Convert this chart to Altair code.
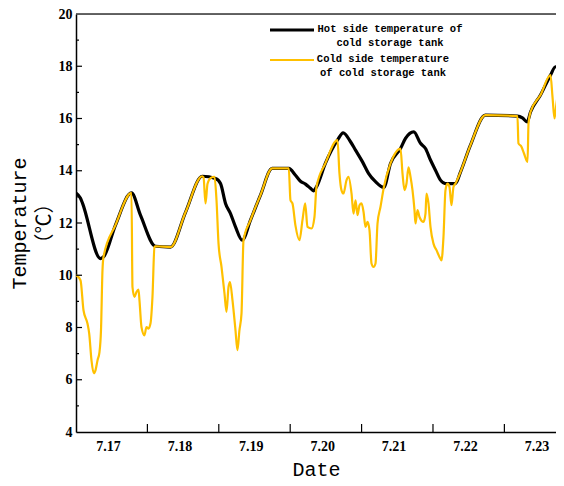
import altair as alt
import pandas as pd

# x = days since 7.17 00:00
hot_day = [0.0, 0.063, 0.091, 0.343, 0.385, 0.553, 0.777, 0.903, 1.113, 1.324, 1.534, 1.768,
           1.954, 2.024, 2.094, 2.164, 2.234, 2.328, 2.444, 2.584, 2.748, 2.980, 3.074, 3.144,
           3.214, 3.284, 3.326, 3.368, 3.494, 3.662, 3.742, 3.845, 3.915, 4.013, 4.097, 4.195,
           4.311, 4.405, 4.545, 4.615, 4.731, 4.825, 4.895, 4.965, 5.035, 5.105, 5.175, 5.315,
           5.385, 5.525, 5.735, 6.183, 6.253, 6.319, 6.366, 6.506, 6.646, 6.716, 6.786, 6.842]
hot_temp = [13.15, 12.95, 12.76, 10.64, 10.70, 11.92, 13.15, 12.30, 11.11, 11.08, 12.41, 13.79,
            13.70, 13.51, 12.75, 12.36, 11.85, 11.34, 12.11, 13.07, 14.09, 14.09, 13.83, 13.60,
            13.49, 13.33, 13.23, 13.38, 14.29, 15.17, 15.45, 15.11, 14.79, 14.34, 13.90, 13.58,
            13.36, 14.28, 14.85, 15.24, 15.49, 15.05, 14.85, 14.41, 14.02, 13.64, 13.51, 13.51,
            13.95, 14.98, 16.13, 16.09, 16.02, 15.87, 16.25, 16.90, 17.66, 17.98, 17.85, 17.60]

cold_day = [0.0, 0.063, 0.105, 0.161, 0.185, 0.217, 0.249, 0.273, 0.301, 0.329, 0.350, 0.371,
            0.385, 0.553, 0.777, 0.791, 0.819, 0.847, 0.875, 0.889, 0.917, 0.959, 0.987, 1.015,
            1.043, 1.071, 1.099, 1.113, 1.324, 1.534, 1.768, 1.786, 1.814, 1.842, 1.884, 1.940,
            1.968, 1.996, 2.038, 2.080, 2.108, 2.136, 2.157, 2.192, 2.234, 2.261, 2.289, 2.318,
            2.346, 2.444, 2.584, 2.748, 2.980, 3.004, 3.032, 3.074, 3.130, 3.172, 3.210, 3.242,
            3.298, 3.340, 3.368, 3.494, 3.662, 3.690, 3.718, 3.746, 3.789, 3.817, 3.859, 3.887,
            3.915, 3.943, 3.971, 3.999, 4.027, 4.055, 4.083, 4.111, 4.139, 4.167, 4.195, 4.223,
            4.265, 4.311, 4.405, 4.545, 4.573, 4.601, 4.629, 4.657, 4.685, 4.713, 4.741, 4.755,
            4.783, 4.811, 4.867, 4.895, 4.909, 4.937, 4.965, 5.007, 5.049, 5.091, 5.119, 5.147,
            5.175, 5.203, 5.231, 5.259, 5.287, 5.315, 5.385, 5.525, 5.735, 6.183, 6.197, 6.239,
            6.275, 6.324, 6.338, 6.366, 6.506, 6.646, 6.674, 6.702, 6.730, 6.758, 6.786, 6.814,
            6.842]
cold_temp = [10.00, 9.81, 8.66, 8.15, 7.77, 6.74, 6.25, 6.36, 6.74, 7.06, 7.89, 10.19,
             10.70, 11.92, 13.15, 9.55, 9.17, 9.36, 9.45, 9.04, 8.02, 7.70, 8.02, 7.96,
             8.15, 9.17, 11.08, 11.11, 11.08, 12.41, 13.79, 13.75, 12.75, 13.50, 13.72, 13.77,
             12.87, 11.22, 10.32, 9.30, 8.60, 9.55, 9.74, 9.04, 7.89, 7.13, 7.89, 8.53,
             11.34, 12.11, 13.07, 14.09, 14.09, 12.87, 12.75, 11.90, 11.34, 12.11, 12.75, 11.85,
             11.79, 12.23, 13.38, 14.29, 15.17, 13.90, 13.26, 13.13, 13.64, 13.77, 13.13, 12.36,
             12.87, 12.30, 12.68, 12.75, 12.43, 11.85, 12.04, 11.72, 10.45, 10.32, 10.45, 11.98,
             12.62, 13.36, 14.28, 14.85, 13.90, 13.26, 13.51, 14.13, 13.77, 13.26, 12.49, 11.98,
             12.49, 12.23, 12.04, 12.36, 13.13, 12.75, 11.85, 11.21, 10.96, 10.70, 10.57, 11.47,
             13.26, 13.51, 13.38, 12.68, 13.38, 13.51, 13.95, 14.98, 16.13, 16.09, 15.05, 14.92,
             14.66, 14.34, 15.81, 16.25, 16.90, 17.66, 16.83, 16.00, 16.58, 16.96, 16.45, 15.43,
             14.41]

x_tick_values = [0, 1, 2, 3, 4, 5, 6]
x_inner_ticks = [1, 2, 3, 4, 5, 6]
y_label_values = [4, 6, 8, 10, 12, 14, 16, 18, 20]
y_major_ticks = [6, 8, 10, 12, 14, 16, 18]
y_minor_ticks = [5, 7, 9, 11, 13, 15, 17, 19]
legend_labels = ["Hot side temperature of\ncold storage tank",
                 "Cold side temperature\nof cold storage tank"]
x_title = "Date"
y_title = ["Temperature", "（℃）"]

W, H = 480, 418
BLACK = "#000000"
GOLD = "#FFC000"
MONO = "'Liberation Mono', 'Noto Sans CJK SC'"
SERIF = "'Liberation Serif'"

hot = pd.DataFrame({"day": hot_day, "temp": hot_temp})
cold = pd.DataFrame({"day": cold_day, "temp": cold_temp})

xscale = alt.Scale(domain=[0, 6.723], nice=False, zero=False)
yscale = alt.Scale(domain=[4, 20], nice=False, zero=False)

x_axis = alt.Axis(values=x_tick_values, labelExpr="'7.' + (17 + datum.value)",
                  labelOffset=32, labelFlush=False, labelOverlap=False, ticks=False,
                  labelPadding=7, labelFont=SERIF, labelFontWeight="bold", labelFontSize=14,
                  labelColor="black", domainColor="black", domainWidth=1.5, grid=False,
                  title=x_title, titleFont=MONO, titleFontSize=20, titleFontWeight="normal",
                  titleColor="black", titlePadding=6)
y_axis = alt.Axis(values=y_label_values, ticks=False, labelPadding=4, labelFont=SERIF,
                  labelFontWeight="bold", labelFontSize=14, labelColor="black",
                  domainColor="black", domainWidth=1.5, grid=False,
                  title=y_title, titleFont=MONO, titleFontSize=20, titleFontWeight="normal",
                  titleColor="black", titlePadding=4, titleLineHeight=25)

X = lambda f: alt.X(f, scale=xscale, axis=x_axis)
Y = lambda f: alt.Y(f, scale=yscale, axis=y_axis)

hot_line = alt.Chart(hot).mark_line(color=BLACK, strokeWidth=3.2, interpolate="monotone",
                                    clip=True).encode(x=X("day:Q"), y=Y("temp:Q"))
cold_line = alt.Chart(cold).mark_line(color=GOLD, strokeWidth=2.2, interpolate="monotone",
                                      clip=True).encode(x=X("day:Q"), y=Y("temp:Q"))

xt = alt.Chart(pd.DataFrame({"day": x_inner_ticks})).mark_rule(color=BLACK, strokeWidth=1.2).encode(
    x=X("day:Q"), y=alt.value(H), y2=alt.value(H - 8))
ymaj = alt.Chart(pd.DataFrame({"temp": y_major_ticks})).mark_rule(color=BLACK, strokeWidth=1.2).encode(
    y=Y("temp:Q"), x=alt.value(0), x2=alt.value(6))
ymin = alt.Chart(pd.DataFrame({"temp": y_minor_ticks})).mark_rule(color=BLACK, strokeWidth=1.2).encode(
    y=Y("temp:Q"), x=alt.value(0), x2=alt.value(3))

one = pd.DataFrame({"a": [0]})
top_border = alt.Chart(one).mark_rule(color="#333333", strokeWidth=1.5).encode(
    x=alt.value(0), x2=alt.value(W), y=alt.value(0))

leg_hot = alt.Chart(one).mark_rule(color=BLACK, strokeWidth=3.2).encode(
    x=alt.value(194), x2=alt.value(238), y=alt.value(16))
leg_cold = alt.Chart(one).mark_rule(color=GOLD, strokeWidth=2.2).encode(
    x=alt.value(194), x2=alt.value(238), y=alt.value(46))
txt_hot = alt.Chart(one).mark_text(lineBreak="\n", align="center", baseline="middle",
                                   font=MONO, fontSize=10.5, fontWeight="bold", lineHeight=14,
                                   color="black").encode(
    x=alt.value(314), y=alt.value(15), text=alt.value(legend_labels[0]))
txt_cold = alt.Chart(one).mark_text(lineBreak="\n", align="center", baseline="middle",
                                    font=MONO, fontSize=10.5, fontWeight="bold", lineHeight=14,
                                    color="black").encode(
    x=alt.value(307), y=alt.value(45), text=alt.value(legend_labels[1]))

chart = alt.layer(hot_line, cold_line, xt, ymaj, ymin, top_border,
                  leg_hot, leg_cold, txt_hot, txt_cold).properties(
    width=W, height=H,
    autosize=alt.AutoSizeParams(type="none"),
    padding={"left": 68, "top": 6, "right": 0, "bottom": 50},
).configure_view(stroke=None).configure(background="white")

chart.save("out.html", embed_options={"renderer": "svg", "actions": False})
